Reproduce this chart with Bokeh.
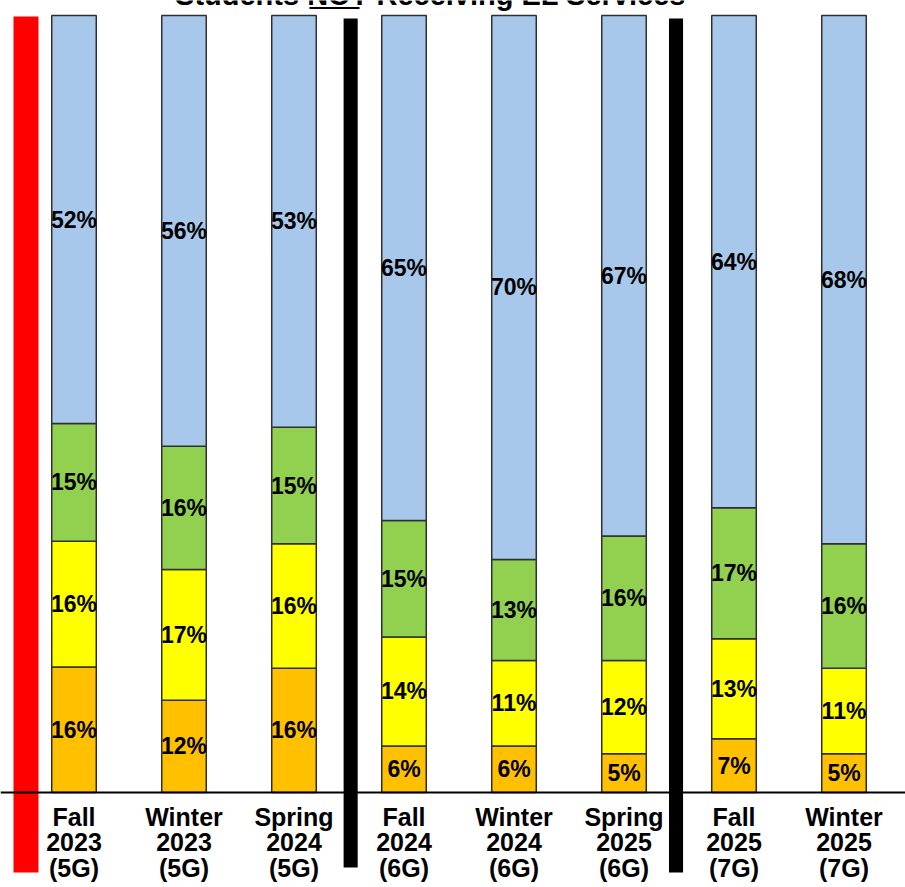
from bokeh.plotting import figure
from bokeh.models import ColumnDataSource, Range1d, Span
from bokeh.core.properties import value
from bokeh.embed import file_html
from bokeh.resources import INLINE

# ---------------- data ----------------
periods = ["Fall 2023", "Winter 2023", "Spring 2024", "Fall 2024",
           "Winter 2024", "Spring 2025", "Fall 2025", "Winter 2025"]
tick_labels = ["Fall\n2023\n(5G)", "Winter\n2023\n(5G)", "Spring\n2024\n(5G)",
               "Fall\n2024\n(6G)", "Winter\n2024\n(6G)", "Spring\n2025\n(6G)",
               "Fall\n2025\n(7G)", "Winter\n2025\n(7G)"]
level_orange = [16, 12, 16, 6, 6, 5, 7, 5]
level_yellow = [16, 17, 16, 14, 11, 12, 13, 11]
level_green = [15, 16, 15, 15, 13, 16, 17, 16]
level_blue = [52, 56, 53, 65, 70, 67, 64, 68]
title_text = "Students NOT Receiving EL Services"
# group separators: index of first period after the break
separators_black = [3, 6]
separator_red = 0

# ---------------- layout ----------------
W, H = 905, 887
PX = 7.77                       # pixels per percentage point (y)
PXX = 110.0                     # pixels per category (x)
BASE_Y = 792                    # pixel row of the baseline
top_data = BASE_Y / PX
bottom_data = top_data - H / PX
x_start = 0.5 - 73.5 / PXX
x_end = x_start + W / PXX

xs = [i + 0.5 for i in range(len(periods))]

p = figure(x_range=Range1d(x_start, x_end), y_range=Range1d(bottom_data, top_data),
           width=W, height=H, output_backend="svg", toolbar_location=None,
           x_axis_location=None, y_axis_location=None, min_border=0)
p.outline_line_color = None
p.xgrid.visible = False
p.ygrid.visible = False
p.background_fill_color = "white"
p.border_fill_color = "white"

series = [level_orange, level_yellow, level_green, level_blue]
colors = ["#FFC000", "#FFFF00", "#92D050", "#A7C8EA"]
totals = [sum(s[i] for s in series) for i in range(len(periods))]

bottoms = [0.0] * len(periods)
label_x, label_y, label_t = [], [], []
for vals, col in zip(series, colors):
    heights = [v / t * 100 for v, t in zip(vals, totals)]
    tops = [b + h for b, h in zip(bottoms, heights)]
    src = ColumnDataSource(dict(x=xs, period=periods, bottom=bottoms, top=tops))
    p.vbar(x="x", bottom="bottom", top="top", width=0.405, source=src,
           fill_color=col, line_color="#2f2f2f", line_width=1.5)
    for i in range(len(periods)):
        label_x.append(xs[i])
        label_y.append((bottoms[i] + tops[i]) / 2)
        label_t.append(f"{vals[i]}%")
    bottoms = tops

lab_src = ColumnDataSource(dict(x=label_x, y=label_y, t=label_t))
p.text(x="x", y="y", text="t", source=lab_src, text_align="center", text_baseline="middle",
       text_font=value("Liberation Sans"), text_font_style="bold", text_font_size="23px",
       text_color="black")

# baseline
p.add_layout(Span(location=0, dimension="width", line_color="black", line_width=2))

# category labels
tick_src = ColumnDataSource(dict(x=xs, y=[0] * len(periods), t=tick_labels))
p.text(x="x", y="y", text="t", source=tick_src, text_align="center", text_baseline="top",
       y_offset=10, text_font=value("Liberation Sans"), text_font_style="bold",
       text_font_size="25px", text_line_height=0.92, text_color="black")

# separators
black_centers = [separators_black[0] + 0.015, separators_black[1] - 0.027]
sep_src = ColumnDataSource(dict(left=[c - 0.064 for c in black_centers],
                                right=[c + 0.064 for c in black_centers],
                                bottom=[-(867 - BASE_Y) / PX, -(872 - BASE_Y) / PX]))
p.quad(left="left", right="right", bottom="bottom", top=(BASE_Y - 18) / PX,
       source=sep_src, fill_color="black", line_color=None)
p.quad(left=[separator_red - 0.05], right=[separator_red + 0.177], bottom=-(872 - BASE_Y) / PX,
       top=(BASE_Y - 16) / PX, fill_color="#FF0000", line_color=None)

# title (cut off at the top edge as in the reference)
title_x = x_start + 430 / PXX
title_y = (BASE_Y + 6) / PX
p.text(x=[title_x], y=[title_y], text=[title_text], text_align="center",
       text_baseline="alphabetic", text_font=value("Liberation Sans"), text_font_style="bold",
       text_font_size="29px", text_color="black")
# underline under "NOT"
p.segment(x0=[x_start + 309 / PXX], x1=[x_start + 359 / PXX], y0=[(BASE_Y - 7.5) / PX],
          y1=[(BASE_Y - 7.5) / PX], line_color="black", line_width=2)

open("out.html", "w").write(file_html(p, INLINE))
